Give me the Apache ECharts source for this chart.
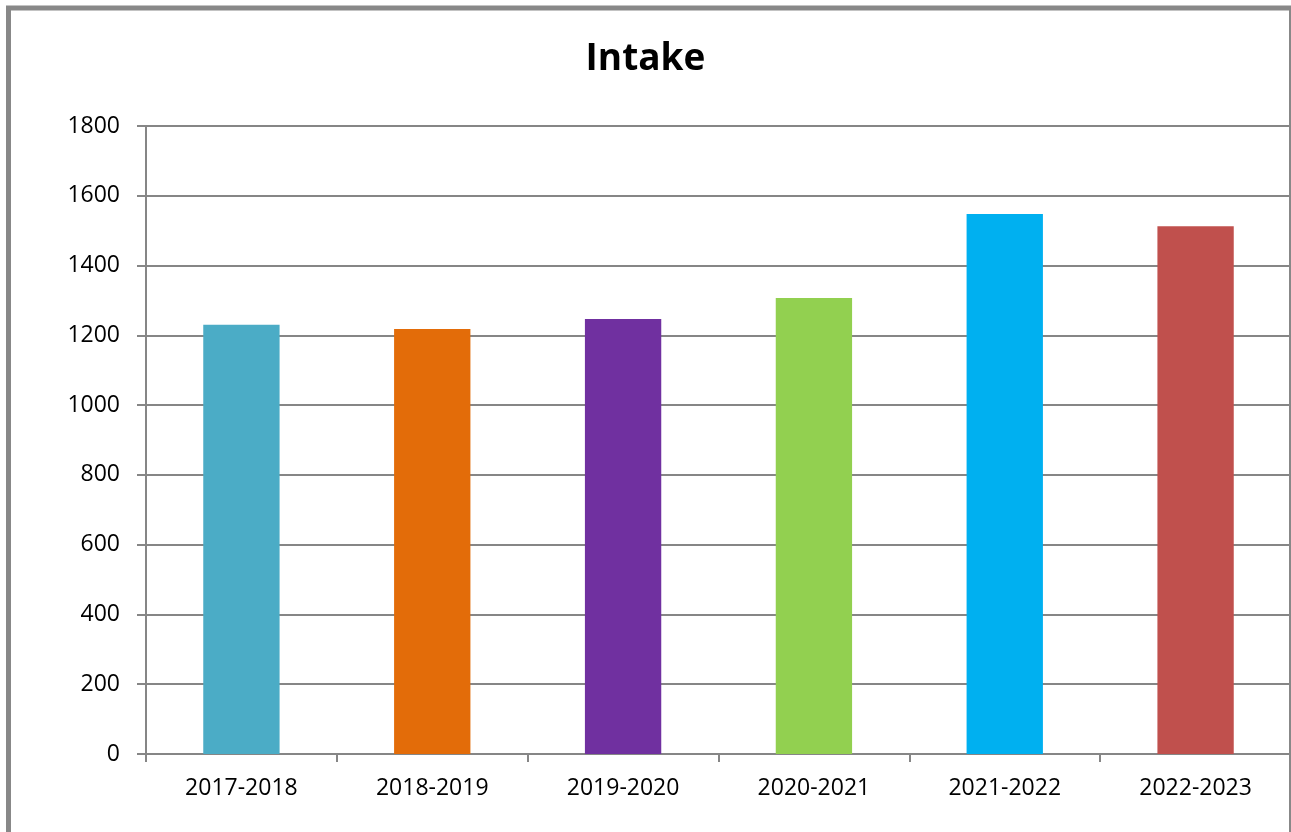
<!DOCTYPE html>
<html>
<head>
<meta charset="utf-8">
<script src="https://cdn.jsdelivr.net/npm/echarts@6/dist/echarts.min.js"></script>
<style>
html,body{margin:0;padding:0;background:#fff;}
#chart{width:1291px;height:832px;}
</style>
</head>
<body>
<div id="chart"></div>
<script>
const categories = ['2017-2018','2018-2019','2019-2020','2020-2021','2021-2022','2022-2023'];
const intake = [1230, 1218, 1247, 1307, 1548, 1513];
const barColors = ['#4BACC6','#E36C09','#7030A0','#92D050','#00B0F0','#C0504D'];
const yTicks = {min: 0, max: 1800, interval: 200};

const chart = echarts.init(document.getElementById('chart'));
chart.setOption({
  animation: false,
  backgroundColor: '#ffffff',
  title: {
    text: 'Intake',
    left: 'center',
    top: 36,
    textStyle: {fontFamily: 'Open Sans', fontWeight: 'bold', fontSize: 37, color: '#000'}
  },
  grid: {left: 146, right: 0, top: 126, bottom: 78, containLabel: false},
  xAxis: {
    type: 'category',
    data: categories,
    axisLine: {lineStyle: {color: '#868686', width: 2}},
    axisTick: {show: true, length: 8, lineStyle: {color: '#868686', width: 2}},
    axisLabel: {fontFamily: 'Open Sans', fontSize: 23, color: '#000', margin: 23}
  },
  yAxis: {
    type: 'value',
    min: yTicks.min, max: yTicks.max, interval: yTicks.interval,
    axisLine: {show: true, lineStyle: {color: '#868686', width: 2}},
    axisTick: {show: true, length: 9, lineStyle: {color: '#868686', width: 2}},
    axisLabel: {fontFamily: 'Open Sans', fontSize: 23, color: '#000', margin: 26,
      formatter: v => String(v)},
    splitLine: {show: true, lineStyle: {color: '#868686', width: 2}}
  },
  series: [{
    type: 'bar',
    data: intake.map((v, i) => ({value: v, itemStyle: {color: barColors[i]}})),
    barWidth: '40%'
  }],
  graphic: [{
    type: 'rect',
    shape: {x: 8.5, y: 8, width: 1283, height: 900},
    style: {fill: 'none', stroke: '#888888', lineWidth: 5},
    silent: true,
    z: 100
  }]
});
</script>
</body>
</html>
